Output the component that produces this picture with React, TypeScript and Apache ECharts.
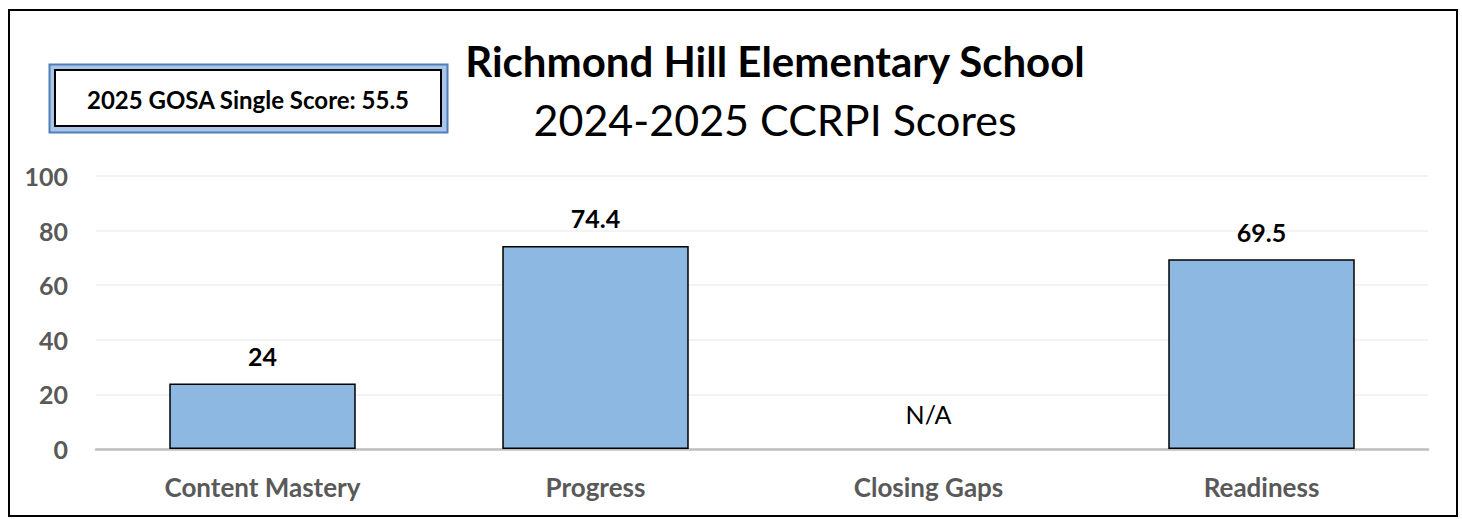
import React, { useEffect, useRef } from "react";
import * as echarts from "echarts";

const categories = ["Content Mastery", "Progress", "Closing Gaps", "Readiness"];
const scores: (number | null)[] = [24, 74.4, null, 69.5];
const yTicks = [0, 20, 40, 60, 80, 100];
const titleLine1 = "Richmond Hill Elementary School";
const titleLine2 = "2024-2025 CCRPI Scores";
const gosaText = "2025 GOSA Single Score: 55.5";

const FONT = "Lato, 'Open Sans', sans-serif";

export default function App() {
  const ref = useRef<HTMLDivElement>(null);
  useEffect(() => {
    document.body.style.margin = "0";
    const chart = echarts.init(ref.current!, null, { renderer: "svg" });
    const data = scores.map((v) =>
      v === null
        ? {
            value: 0,
            itemStyle: { color: "rgba(0,0,0,0)", borderWidth: 0 },
            label: {
              show: true,
              formatter: "N/A",
              fontWeight: "normal",
              fontSize: 25,
              distance: 23,
            },
          }
        : { value: v }
    );
    chart.setOption({
      animation: false,
      textStyle: { fontFamily: FONT },
      grid: { left: 96, right: 34, top: 176, bottom: 70 },
      xAxis: {
        type: "category",
        data: categories,
        axisLine: { lineStyle: { color: "#bfbfbf", width: 2.5 } },
        axisTick: { show: false },
        axisLabel: {
          color: "#595959",
          fontWeight: "bold",
          fontSize: 26,
          margin: 25,
          fontFamily: FONT,
        },
      },
      yAxis: {
        type: "value",
        min: yTicks[0],
        max: yTicks[yTicks.length - 1],
        interval: 20,
        axisLine: { show: false },
        axisTick: { show: false },
        splitLine: { lineStyle: { color: "#efefef", width: 1.5 } },
        axisLabel: {
          color: "#595959",
          fontWeight: "bold",
          fontSize: 25,
          margin: 28,
          fontFamily: FONT,
        },
      },
      series: [
        {
          type: "bar",
          data,
          barWidth: "56%",
          itemStyle: { color: "#8db8e2", borderColor: "#000", borderWidth: 1.5 },
          label: {
            show: true,
            position: "top",
            distance: 15,
            color: "#000",
            fontWeight: "bold",
            fontSize: 25,
            fontFamily: FONT,
          },
        },
      ],
      graphic: [
        {
          type: "rect",
          shape: { x: 9, y: 10, width: 1448, height: 506 },
          style: { fill: "none", stroke: "#000", lineWidth: 2 },
          silent: true,
        },
        {
          type: "rect",
          shape: { x: 49.5, y: 64.5, width: 398, height: 68 },
          style: { fill: "#a9c6ea", stroke: "#4f7fb5", lineWidth: 2 },
        },
        {
          type: "rect",
          shape: { x: 55, y: 70, width: 386, height: 56 },
          style: { fill: "#fff", stroke: "#000", lineWidth: 2 },
        },
        {
          type: "text",
          x: 248,
          y: 99,
          style: {
            text: gosaText,
            fill: "#000",
            font: `bold 24px ${FONT}`,
            align: "center",
            verticalAlign: "middle",
          },
        },
        {
          type: "text",
          x: 775,
          y: 61,
          style: {
            text: titleLine1,
            fill: "#000",
            font: `bold 42px ${FONT}`,
            align: "center",
            verticalAlign: "middle",
          },
        },
        {
          type: "text",
          x: 775,
          y: 119,
          style: {
            text: titleLine2,
            fill: "#000",
            font: `43px ${FONT}`,
            align: "center",
            verticalAlign: "middle",
          },
        },
      ],
    });
    return () => chart.dispose();
  }, []);
  return (
    <div
      ref={ref}
      style={{ position: "absolute", left: 0, top: 0, width: 1462, height: 519 }}
    />
  );
}
